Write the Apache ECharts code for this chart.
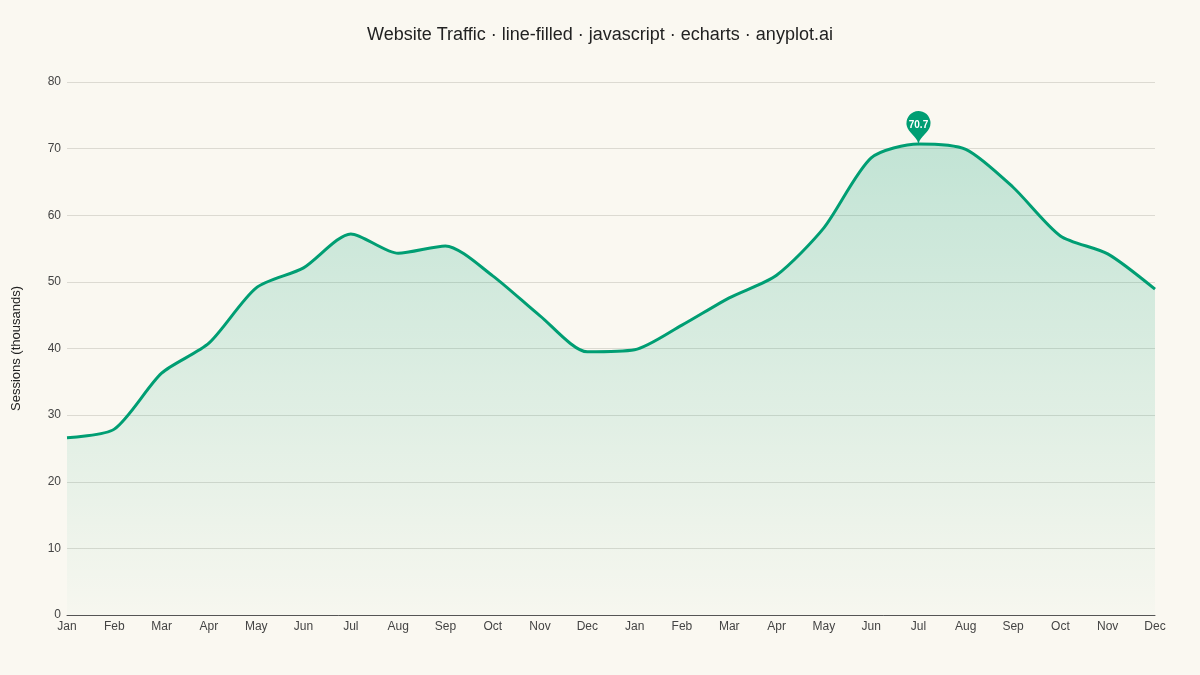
<!DOCTYPE html>
<html lang="en">
<head>
  <meta charset="UTF-8">
  <title>Website Traffic</title>
  <script src="https://cdn.jsdelivr.net/npm/echarts@6/dist/echarts.min.js"></script>
  <style>
    html, body {
      margin: 0;
      height: 100%;
      background: #faf8f1;
    }

    #main {
      width: 1200px;
      height: 675px;
    }
  </style>
</head>
<body>
  <div id="main"></div>
  <script type="text/javascript">
    // monthly labels, two years
    var months = ['Jan', 'Feb', 'Mar', 'Apr', 'May', 'Jun', 'Jul', 'Aug', 'Sep', 'Oct', 'Nov', 'Dec',
      'Jan', 'Feb', 'Mar', 'Apr', 'May', 'Jun', 'Jul', 'Aug', 'Sep', 'Oct', 'Nov', 'Dec']

    // sessions in thousands
    var sessions = [26.6, 27.9, 36.3, 40.8, 49.1, 52.1, 57.2, 54.3, 55.4, 50.9, 44.9, 39.5,
      39.8, 43.5, 47.6, 51.0, 58.1, 68.6, 70.7, 69.9, 64.2, 56.9, 54.2, 48.9]

    var yTicks = [0, 10, 20, 30, 40, 50, 60, 70, 80]

    var green = '#009e73'
    var myChart = echarts.init(document.getElementById('main'))

    var option = {
      backgroundColor: '#faf8f1',
      textStyle: { fontFamily: 'Liberation Sans, Arial, sans-serif' },
      title: {
        text: 'Website Traffic · line-filled · javascript · echarts · anyplot.ai',
        left: 'center',
        top: 21,
        textStyle: { fontSize: 18, fontWeight: 'normal', color: '#222' }
      },
      grid: { left: 67, right: 45, top: 82, bottom: 60 },
      xAxis: {
        type: 'category',
        data: months,
        boundaryGap: false,
        axisLine: { lineStyle: { color: '#555' } },
        axisTick: { show: false },
        axisLabel: { color: '#444', fontSize: 12, margin: 6 }
      },
      yAxis: {
        type: 'value',
        min: yTicks[0],
        max: yTicks[yTicks.length - 1],
        interval: 10,
        name: 'Sessions (thousands)',
        nameLocation: 'middle',
        nameGap: 44,
        nameTextStyle: { color: '#222', fontSize: 13 },
        axisLine: { show: false },
        axisTick: { show: false },
        axisLabel: { color: '#444', fontSize: 12, margin: 6 },
        splitLine: { lineStyle: { color: '#dcdad2' } }
      },
      series: [
        {
          type: 'line',
          data: sessions,
          smooth: 0.25,
          symbol: 'none',
          lineStyle: { color: green, width: 3 },
          itemStyle: { color: green },
          areaStyle: {
            color: new echarts.graphic.LinearGradient(0, 0, 0, 1, [
              { offset: 0, color: 'rgba(0,158,115,0.32)' },
              { offset: 1, color: 'rgba(0,158,115,0.02)' }
            ])
          },
          markPoint: {
            symbol: 'pin',
            symbolSize: 40,
            symbolOffset: [0, 2],
            data: [{ type: 'max' }],
            itemStyle: { color: green },
            label: { color: '#fff', fontSize: 10, fontWeight: 'bold' }
          }
        }
      ]
    }

    myChart.setOption(option)
  </script>
</body>
</html>
